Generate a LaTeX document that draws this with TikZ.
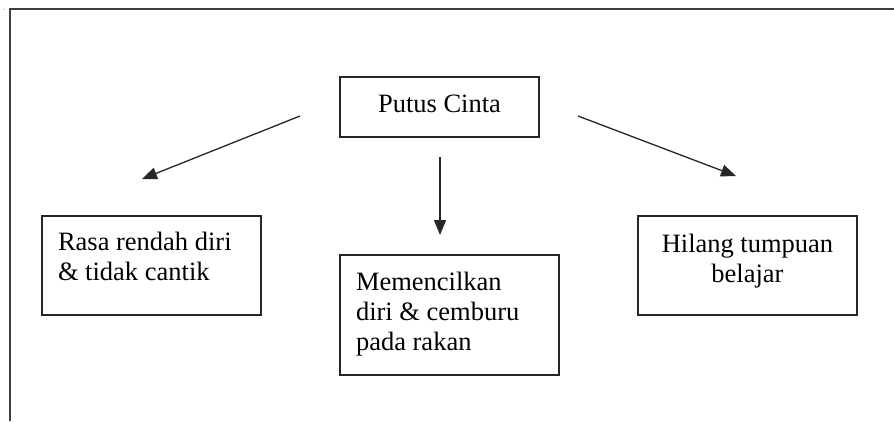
\documentclass[tikz,border=0pt]{standalone}
\usepackage{fontspec}
\setmainfont{Liberation Serif}
\usetikzlibrary{arrows.meta}
\newcommand{\boxtxt}[5]{\parbox[c][#2][t]{#1}{\fontsize{26.5}{30}\selectfont#4\vspace*{#3}\strut #5}}
\tikzset{
  stepbox/.style={draw=black!85, line width=1.3pt, inner sep=0pt, rectangle},
  link/.style={draw=black!85, line width=1.3pt, -{Triangle[length=15pt,width=12pt]}},
  frameline/.style={draw=black!75, line width=1.5pt}
}
\begin{document}
\begin{tikzpicture}[x=1pt,y=-1pt]
\useasboundingbox (0,0) rectangle (894,421);
% outer frame
\coordinate (ftl) at (10,9);
\coordinate (ftr) at (894,9);
\coordinate (fbl) at (10,421);
\draw[frameline] (ftr) -- (ftl) -- (fbl);
\fill[black!40] (4.3,9.3) circle (0.6);
% boxes
\node[stepbox] (pc) at (439.5,107) {\boxtxt{199pt}{60pt}{14pt}{\centering}{Putus Cinta}};
\node[stepbox] (rr) at (151.5,265.5) {\boxtxt{219pt}{99pt}{13pt}{\setlength{\leftskip}{16pt}}{Rasa rendah diri\\ \& tidak cantik}};
\node[stepbox] (md) at (449.5,315) {\boxtxt{219pt}{120pt}{14pt}{\setlength{\leftskip}{16pt}}{Memencilkan\\ diri \& cemburu\\ pada rakan}};
\node[stepbox] (ht) at (747.5,265.5) {\boxtxt{219pt}{99pt}{15pt}{\centering}{Hilang tumpuan\\ belajar}};
% arrows
\coordinate (a1s) at (300,116);
\coordinate (a1e) at (142,179);
\coordinate (a2s) at (440,157);
\coordinate (a2e) at (440,235);
\coordinate (a3s) at (578,116);
\coordinate (a3e) at (736,176);
\draw[link] (a1s) -- (a1e);
\draw[link] (a2s) -- (a2e);
\draw[link] (a3s) -- (a3e);
\end{tikzpicture}
\end{document}
